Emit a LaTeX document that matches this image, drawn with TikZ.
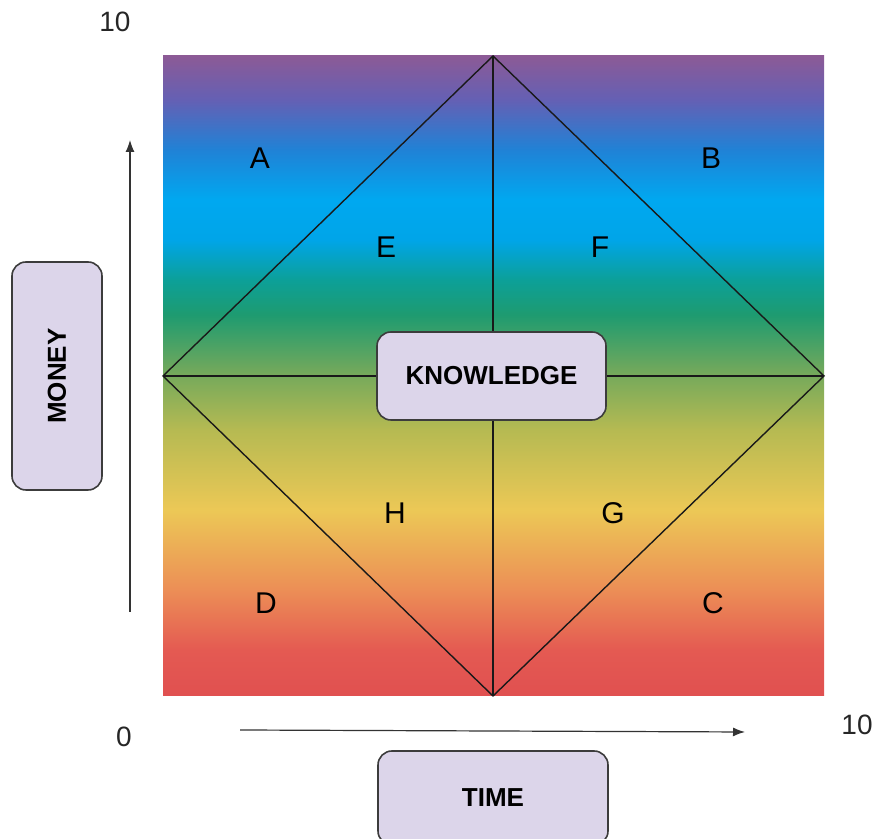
\documentclass[tikz,border=0pt]{standalone}
\usepackage{fontspec}
\setmainfont{Liberation Sans}
\usetikzlibrary{arrows.meta}
\definecolor{c0}{RGB}{224,80,80}
\definecolor{c1}{RGB}{228,90,82}
\definecolor{c2}{RGB}{236,142,86}
\definecolor{c3}{RGB}{236,200,86}
\definecolor{c4}{RGB}{182,186,82}
\definecolor{c5}{RGB}{112,168,92}
\definecolor{c6}{RGB}{30,155,112}
\definecolor{c7}{RGB}{12,160,152}
\definecolor{c8}{RGB}{0,165,232}
\definecolor{c9}{RGB}{0,168,240}
\definecolor{c10}{RGB}{32,130,214}
\definecolor{c11}{RGB}{100,96,180}
\definecolor{c12}{RGB}{140,90,150}
\definecolor{boxfill}{RGB}{220,213,234}
\definecolor{boxline}{RGB}{60,60,60}
\pgfdeclareverticalshading{rainbowsq}{100bp}{color(0bp)=(c0); color(25bp)=(c0); color(28.59bp)=(c1); color(33.28bp)=(c2); color(39.53bp)=(c3); color(45.78bp)=(c4); color(50.47bp)=(c5); color(54.77bp)=(c6); color(57.5bp)=(c7); color(60.63bp)=(c8); color(63.75bp)=(c9); color(67.66bp)=(c10); color(71.56bp)=(c11); color(75bp)=(c12); color(100bp)=(c12)}
\begin{document}
\begin{tikzpicture}[x=0.5pt,y=0.5pt,
  labelbox/.style={draw=boxline,line width=0.8pt,fill=boxfill,rounded corners=7pt,
    font=\fontsize{13}{15}\selectfont\bfseries,inner sep=0pt},
  region/.style={font=\fontsize{15}{18}\selectfont},
  numlabel/.style={font=\fontsize{14}{17}\selectfont,text=black!85},
  axisarrow/.style={draw=black!80,line width=0.6pt,-{Latex[length=6pt,width=4.5pt]}},
  divline/.style={draw=black!90,line width=0.7pt}]
\useasboundingbox (0,0) rectangle (878,839);
\shade[shading=rainbowsq] (163,143) rectangle (824,783);
\coordinate (top) at (493,783);
\coordinate (bot) at (493,143);
\coordinate (lft) at (163,463);
\coordinate (rgt) at (824,463);
\draw[divline] (top) -- (lft) -- (bot) -- (rgt) -- cycle;
\draw[divline] (top) -- (bot);
\draw[divline] (lft) -- (rgt);
\node[labelbox,minimum width=114.5pt,minimum height=44pt] (know) at (491.5,463) {KNOWLEDGE};
\node[region] (A) at (260,681) {A};
\node[region] (B) at (711,681) {B};
\node[region] (E) at (386,592) {E};
\node[region] (F) at (600,592) {F};
\node[region] (H) at (395,326) {H};
\node[region] (G) at (613,326) {G};
\node[region] (D) at (266,236) {D};
\node[region] (C) at (713,236) {C};
\node[labelbox,rotate=90,minimum width=114pt,minimum height=45pt] (money) at (57,463) {MONEY};
\node[labelbox,minimum width=115pt,minimum height=47pt] (time) at (493,41) {TIME};
\coordinate (ys) at (130,227);
\coordinate (ye) at (130,699);
\coordinate (xs) at (240,109);
\coordinate (xe) at (745,107);
\draw[axisarrow] (ys) -- (ye);
\draw[axisarrow] (xs) -- (xe);
\node[numlabel] (ytop) at (115,817) {10};
\node[numlabel] (zero) at (124,102) {0};
\node[numlabel] (xtop) at (857,114) {10};
\end{tikzpicture}
\end{document}
